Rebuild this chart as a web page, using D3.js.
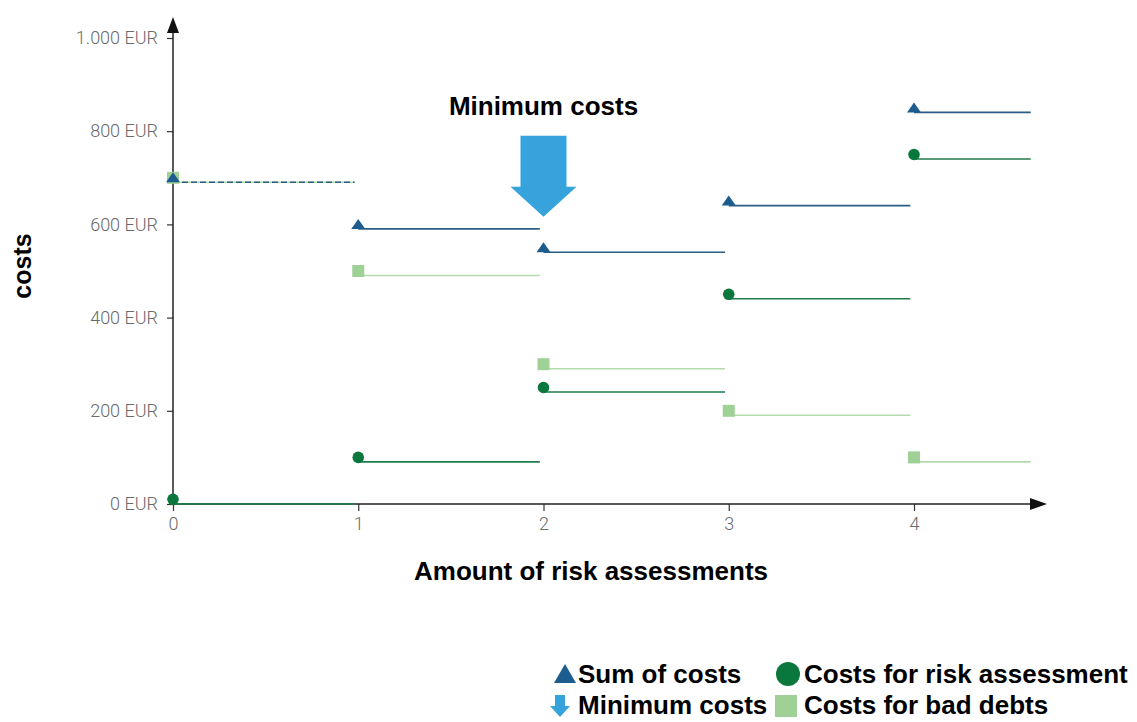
<!DOCTYPE html>
<html>
<head>
<meta charset="utf-8">
<script src="https://cdn.jsdelivr.net/npm/d3@7"></script>
<style>
  html, body { margin: 0; padding: 0; background: #fff; }
  svg { display: block; }
</style>
</head>
<body>
<svg id="chart" width="1137" height="722"></svg>
<script>
// ---- data ----
const assessments = [0, 1, 2, 3, 4];
const segmentEnds = [0.98, 1.98, 2.98, 3.98, 4.63];
const sumOfCosts = [700, 600, 550, 650, 850];
const riskAssessmentCosts = [10, 100, 250, 450, 750];
const badDebtCosts = [700, 500, 300, 200, 100];
const yTickValues = [0, 200, 400, 600, 800, 1000];
const yTickLabels = ["0 EUR", "200 EUR", "400 EUR", "600 EUR", "800 EUR", "1.000 EUR"];
const xTickValues = [0, 1, 2, 3, 4];
const xTickLabels = ["0", "1", "2", "3", "4"];
const legendLabels = ["Sum of costs", "Costs for risk assessment", "Minimum costs", "Costs for bad debts"];

// ---- styling ----
const C_SUM = "#1c5c8e", C_SUM_LINE = "#2a5d84";
const C_RISK = "#0a773c", C_RISK_LINE = "#1f7a4c";
const C_BAD = "#9fd197", C_BAD_LINE = "#b3dbab";
const C_MIN = "#36a3dd";
const TICK_FONT = "Roboto, 'Liberation Sans', sans-serif";
const BOLD_FONT = "'Liberation Sans', Arial, sans-serif";

const svg = d3.select("#chart");
const x = d3.scaleLinear().domain([0, 4]).range([173, 914]);
const y = d3.scaleLinear().domain([0, 1000]).range([504, 38]);

// ---- axes ----
const yAxis = d3.axisLeft(y).tickValues(yTickValues)
  .tickFormat((d, i) => yTickLabels[i]).tickSizeInner(6).tickSizeOuter(0).tickPadding(9);
const gy = svg.append("g").attr("transform", `translate(${x(0)},0)`).call(yAxis);
gy.select(".domain").remove();
gy.selectAll(".tick line").attr("stroke", "#333").attr("stroke-width", 1.2);
gy.selectAll(".tick text").attr("fill", "#6a6a6a").attr("font-family", TICK_FONT)
  .attr("font-weight", 300).attr("font-size", 18);

const xAxis = d3.axisBottom(x).tickValues(xTickValues)
  .tickFormat((d, i) => xTickLabels[i]).tickSizeInner(7).tickSizeOuter(0).tickPadding(6);
const gx = svg.append("g").attr("transform", `translate(0,${y(0)})`).call(xAxis);
gx.select(".domain").remove();
gx.selectAll(".tick line").attr("stroke", "#333").attr("stroke-width", 1.2);
gx.selectAll(".tick text").attr("fill", "#6a6a6a").attr("font-family", TICK_FONT)
  .attr("font-weight", 300).attr("font-size", 18);

// axis lines with arrow heads
svg.append("line").attr("x1", x(0)).attr("x2", x(0)).attr("y1", y(0)).attr("y2", 30)
  .attr("stroke", "#222").attr("stroke-width", 1.5);
svg.append("path").attr("d", `M${x(0)},17 L${x(0) - 6},33 L${x(0) + 6},33 Z`).attr("fill", "#111");
svg.append("line").attr("x1", x(0)).attr("x2", 1034).attr("y1", y(0)).attr("y2", y(0))
  .attr("stroke", "#222").attr("stroke-width", 1.5);
svg.append("path").attr("d", `M1047,${y(0)} L1030,${y(0) - 6} L1030,${y(0) + 6} Z`).attr("fill", "#111");

// ---- series ----
const LINE_OFF = 4.5;
function segments(values, color, dashFirst) {
  svg.append("g").selectAll("line").data(assessments).join("line")
    .attr("x1", d => x(d)).attr("x2", (d, i) => x(segmentEnds[i]))
    .attr("y1", (d, i) => y(values[i]) + LINE_OFF).attr("y2", (d, i) => y(values[i]) + LINE_OFF)
    .attr("stroke", color).attr("stroke-width", 1.6)
    .attr("stroke-dasharray", (d, i) => (dashFirst && i === 0) ? "6,3" : null);
}
segments(badDebtCosts, C_BAD_LINE, false);
segments(riskAssessmentCosts, C_RISK_LINE, false);
segments(sumOfCosts, C_SUM_LINE, true);

svg.append("g").selectAll("rect").data(assessments).join("rect")
  .attr("x", d => x(d) - 6).attr("y", (d, i) => y(badDebtCosts[i]) - 6)
  .attr("width", 12).attr("height", 12).attr("fill", C_BAD);

svg.append("g").selectAll("circle").data(assessments).join("circle")
  .attr("cx", d => x(d)).attr("cy", (d, i) => y(riskAssessmentCosts[i]))
  .attr("r", 5.8).attr("fill", C_RISK);

svg.append("g").selectAll("path").data(assessments).join("path")
  .attr("d", (d, i) => {
    const cx = x(d), cy = y(sumOfCosts[i]);
    return `M${cx},${cy - 5.5} L${cx + 7},${cy + 4.5} L${cx - 7},${cy + 4.5} Z`;
  }).attr("fill", C_SUM);

// ---- minimum cost arrow ----
const minIdx = sumOfCosts.indexOf(d3.min(sumOfCosts));
const ax = x(assessments[minIdx]);
const tipY = y(sumOfCosts[minIdx]) - 31;
svg.append("path")
  .attr("d", `M${ax - 23},${tipY - 81} L${ax + 23},${tipY - 81} L${ax + 23},${tipY - 30} L${ax + 33},${tipY - 30} L${ax},${tipY} L${ax - 33},${tipY - 30} L${ax - 23},${tipY - 30} Z`)
  .attr("fill", C_MIN);
svg.append("text").attr("x", ax).attr("y", 115).attr("text-anchor", "middle")
  .attr("font-family", BOLD_FONT).attr("font-weight", "bold").attr("font-size", 26)
  .attr("fill", "#000").text("Minimum costs");

// ---- axis titles ----
svg.append("text").attr("x", 591).attr("y", 580).attr("text-anchor", "middle")
  .attr("font-family", BOLD_FONT).attr("font-weight", "bold").attr("font-size", 26)
  .attr("fill", "#000").text("Amount of risk assessments");
svg.append("text").attr("transform", "translate(31,266) rotate(-90)").attr("text-anchor", "middle")
  .attr("font-family", BOLD_FONT).attr("font-weight", "bold").attr("font-size", 25)
  .attr("fill", "#000").text("costs");

// ---- legend ----
const lg = svg.append("g");
lg.append("path").attr("d", "M565,664 L576,683 L554,683 Z").attr("fill", C_SUM);
lg.append("circle").attr("cx", 788).attr("cy", 674).attr("r", 12).attr("fill", C_RISK);
lg.append("path").attr("d", "M555,695 L565,695 L565,706 L570,706 L560,717 L550,706 L555,706 Z").attr("fill", C_MIN);
lg.append("rect").attr("x", 775).attr("y", 695).attr("width", 22).attr("height", 22).attr("fill", C_BAD);
const legendPos = [[578, 683], [804, 683], [578, 714], [804, 714]];
lg.selectAll("text").data(legendLabels).join("text")
  .attr("x", (d, i) => legendPos[i][0]).attr("y", (d, i) => legendPos[i][1])
  .attr("font-family", BOLD_FONT).attr("font-weight", "bold").attr("font-size", 26)
  .attr("fill", "#000").text(d => d);
</script>
</body>
</html>
